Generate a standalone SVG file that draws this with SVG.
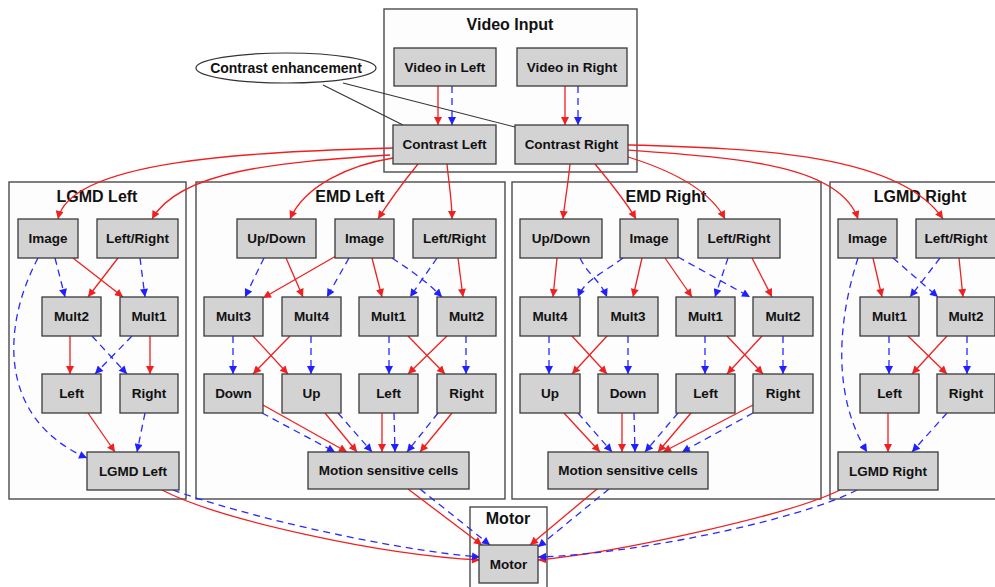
<svg xmlns="http://www.w3.org/2000/svg" width="995" height="587" viewBox="0 0 995 587">
<style>
.cl{fill:#fdfdfd;stroke:#4a4a4a;stroke-width:1.4}
.nd{fill:#d3d3d3;stroke:#3a3a3a;stroke-width:1.3}
.t{font-family:"Liberation Sans",Arial,sans-serif;font-weight:bold;font-size:13.5px;fill:#111;text-anchor:middle}
.tt{font-family:"Liberation Sans",Arial,sans-serif;font-weight:bold;font-size:16px;fill:#111;text-anchor:middle}
.r{stroke:#f02020;stroke-width:1.3;fill:none;marker-end:url(#ar)}
.b{stroke:#2a2aff;stroke-width:1.3;fill:none;stroke-dasharray:7 5;marker-end:url(#ab)}
.k{stroke:#333;stroke-width:1.1;fill:none}
</style>
<defs>
<marker id="ar" viewBox="0 0 10 10" refX="10" refY="5" markerWidth="10" markerHeight="8" markerUnits="userSpaceOnUse" orient="auto"><path d="M0,0 L10,5 L0,10 z" fill="#f02020"/></marker>
<marker id="ab" viewBox="0 0 10 10" refX="10" refY="5" markerWidth="10" markerHeight="8" markerUnits="userSpaceOnUse" orient="auto"><path d="M0,0 L10,5 L0,10 z" fill="#2020ff"/></marker>
</defs>
<rect x="0" y="0" width="995" height="587" fill="#ffffff"/>
<g id="clusters">
<g id="cluster_video"><rect class="cl" x="384" y="9" width="253" height="163"/><text class="tt" x="510" y="30">Video Input</text></g>
<g id="cluster_lgmd_left"><rect class="cl" x="9" y="182" width="177" height="317"/><text class="tt" x="97" y="202">LGMD Left</text></g>
<g id="cluster_emd_left"><rect class="cl" x="196" y="182" width="309" height="317"/><text class="tt" x="350" y="202">EMD Left</text></g>
<g id="cluster_emd_right"><rect class="cl" x="512" y="182" width="309" height="317"/><text class="tt" x="666" y="202">EMD Right</text></g>
<g id="cluster_lgmd_right"><rect class="cl" x="830" y="182" width="180" height="317"/><text class="tt" x="920" y="202">LGMD Right</text></g>
<g id="cluster_motor"><rect class="cl" x="470" y="507" width="77" height="95"/><text class="tt" x="508" y="524">Motor</text></g>
</g>
<g id="connectors">
<path class="k" d="M323,85 L403,125"/>
<path class="k" d="M343,83 L515,127"/>
<path class="r" d="M438,86 L438,125"/>
<path class="b" d="M452,86 L452,125"/>
<path class="r" d="M565,86 L565,125"/>
<path class="b" d="M578,86 L578,125"/>
<path class="r" d="M393,148 C250,152 70,160 58,219"/>
<path class="r" d="M390,155 C280,162 180,170 152,219"/>
<path class="r" d="M393,158 C350,165 305,185 290,219"/>
<path class="r" d="M418,164 C405,180 390,200 378,219"/>
<path class="r" d="M447,164 C449,185 452,200 452,219"/>
<path class="r" d="M570,164 C568,185 565,200 563,219"/>
<path class="r" d="M595,164 C610,182 625,200 636,219"/>
<path class="r" d="M628,157 C670,170 710,190 725,219"/>
<path class="r" d="M628,150 C740,158 840,165 858,219"/>
<path class="r" d="M628,145 C760,148 900,155 943,219"/>
<path class="b" d="M55,258 L65,297"/>
<path class="r" d="M73,258 L123,297"/>
<path class="r" d="M118,258 L88,297"/>
<path class="b" d="M140,258 L145,297"/>
<path class="b" d="M38,258 C0,330 0,420 87,458"/>
<path class="r" d="M70,336 L70,374"/>
<path class="b" d="M92,336 L127,374"/>
<path class="b" d="M132,336 L95,374"/>
<path class="r" d="M150,336 L150,374"/>
<path class="r" d="M88,413 L115,452"/>
<path class="b" d="M145,413 L137,452"/>
<path class="b" d="M264,258 L245,297"/>
<path class="r" d="M286,258 L303,297"/>
<path class="r" d="M336,256 L263,298"/>
<path class="b" d="M349,258 L327,297"/>
<path class="r" d="M372,258 L382,297"/>
<path class="b" d="M392,258 C410,270 425,280 442,297"/>
<path class="b" d="M437,258 L410,297"/>
<path class="r" d="M458,258 L463,297"/>
<path class="b" d="M233,336 L233,374"/>
<path class="r" d="M253,336 L288,374"/>
<path class="r" d="M290,336 L253,374"/>
<path class="b" d="M311,336 L311,374"/>
<path class="b" d="M389,336 L389,374"/>
<path class="r" d="M408,336 L445,374"/>
<path class="r" d="M447,336 L408,374"/>
<path class="b" d="M466,336 L466,374"/>
<path class="b" d="M262,413 L335,452"/>
<path class="r" d="M263,405 L347,452"/>
<path class="r" d="M325,413 L357,452"/>
<path class="b" d="M338,413 L372,452"/>
<path class="r" d="M382,413 L382,452"/>
<path class="b" d="M394,413 L395,452"/>
<path class="b" d="M438,413 L407,452"/>
<path class="r" d="M452,413 L420,452"/>
<path class="r" d="M557,258 L553,297"/>
<path class="b" d="M580,258 C588,275 600,280 607,297"/>
<path class="b" d="M623,258 C600,275 585,280 578,297"/>
<path class="r" d="M642,258 L633,297"/>
<path class="r" d="M665,258 L692,297"/>
<path class="b" d="M678,257 L750,297"/>
<path class="b" d="M728,258 L715,297"/>
<path class="r" d="M752,258 L772,297"/>
<path class="b" d="M549,336 L549,374"/>
<path class="r" d="M572,336 L607,374"/>
<path class="r" d="M607,336 L572,374"/>
<path class="b" d="M628,336 L628,374"/>
<path class="b" d="M705,336 L705,374"/>
<path class="r" d="M727,336 L763,374"/>
<path class="r" d="M762,336 L727,374"/>
<path class="b" d="M783,336 L783,374"/>
<path class="r" d="M564,413 L600,452"/>
<path class="b" d="M578,413 L612,452"/>
<path class="r" d="M622,413 L622,452"/>
<path class="b" d="M634,413 L635,452"/>
<path class="b" d="M678,413 L645,452"/>
<path class="r" d="M691,413 L658,452"/>
<path class="r" d="M753,405 L663,452"/>
<path class="b" d="M753,413 L682,452"/>
<path class="r" d="M873,258 L882,297"/>
<path class="b" d="M893,258 L938,297"/>
<path class="b" d="M940,258 L910,297"/>
<path class="r" d="M959,258 L963,297"/>
<path class="b" d="M858,258 C835,330 835,400 867,452"/>
<path class="b" d="M889,336 L889,374"/>
<path class="r" d="M908,336 L947,374"/>
<path class="r" d="M947,336 L912,374"/>
<path class="b" d="M967,336 L967,374"/>
<path class="r" d="M888,413 L888,452"/>
<path class="b" d="M947,413 L912,452"/>
<path class="r" d="M162,490 C220,520 380,555 480,560"/>
<path class="b" d="M173,490 C240,515 390,550 480,557"/>
<path class="r" d="M408,489 L482,545"/>
<path class="b" d="M420,489 L490,545"/>
<path class="r" d="M597,489 L530,545"/>
<path class="b" d="M609,489 L538,547"/>
<path class="r" d="M840,490 C790,515 620,552 538,560"/>
<path class="b" d="M857,490 C800,520 630,555 538,557"/>
</g>
<g id="n_contrast_enh"><ellipse cx="286" cy="68" rx="90" ry="15" fill="#ffffff" stroke="#333" stroke-width="1.2"/><text class="t" x="286" y="73" style="font-size:14px">Contrast enhancement</text></g>
<g id="n_video_left"><rect class="nd" x="394" y="48" width="102" height="38"/><text class="t" x="445" y="72">Video in Left</text></g>
<g id="n_video_right"><rect class="nd" x="517" y="48" width="110" height="38"/><text class="t" x="572" y="72">Video in Right</text></g>
<g id="n_contrast_left"><rect class="nd" x="393" y="125" width="103" height="39"/><text class="t" x="444.5" y="149">Contrast Left</text></g>
<g id="n_contrast_right"><rect class="nd" x="515" y="125" width="113" height="39"/><text class="t" x="571.5" y="149">Contrast Right</text></g>
<g id="n_lgmdL_image"><rect class="nd" x="18" y="219" width="60" height="39"/><text class="t" x="48" y="243">Image</text></g>
<g id="n_lgmdL_lr"><rect class="nd" x="97" y="219" width="81" height="39"/><text class="t" x="137.5" y="243">Left/Right</text></g>
<g id="n_lgmdL_mult2"><rect class="nd" x="42" y="297" width="59" height="39"/><text class="t" x="71.5" y="321">Mult2</text></g>
<g id="n_lgmdL_mult1"><rect class="nd" x="120" y="297" width="58" height="39"/><text class="t" x="149" y="321">Mult1</text></g>
<g id="n_lgmdL_left"><rect class="nd" x="42" y="374" width="59" height="39"/><text class="t" x="71.5" y="398">Left</text></g>
<g id="n_lgmdL_right"><rect class="nd" x="120" y="374" width="58" height="39"/><text class="t" x="149" y="398">Right</text></g>
<g id="n_lgmd_left"><rect class="nd" x="87" y="452" width="92" height="38"/><text class="t" x="133" y="476">LGMD Left</text></g>
<g id="n_emdL_ud"><rect class="nd" x="237" y="219" width="79" height="39"/><text class="t" x="276.5" y="243">Up/Down</text></g>
<g id="n_emdL_image"><rect class="nd" x="335" y="219" width="59" height="39"/><text class="t" x="364.5" y="243">Image</text></g>
<g id="n_emdL_lr"><rect class="nd" x="413" y="219" width="83" height="39"/><text class="t" x="454.5" y="243">Left/Right</text></g>
<g id="n_emdL_mult3"><rect class="nd" x="204" y="297" width="59" height="39"/><text class="t" x="233.5" y="321">Mult3</text></g>
<g id="n_emdL_mult4"><rect class="nd" x="282" y="297" width="59" height="39"/><text class="t" x="311.5" y="321">Mult4</text></g>
<g id="n_emdL_mult1"><rect class="nd" x="359" y="297" width="59" height="39"/><text class="t" x="388.5" y="321">Mult1</text></g>
<g id="n_emdL_mult2"><rect class="nd" x="437" y="297" width="59" height="39"/><text class="t" x="466.5" y="321">Mult2</text></g>
<g id="n_emdL_down"><rect class="nd" x="204" y="374" width="59" height="39"/><text class="t" x="233.5" y="398">Down</text></g>
<g id="n_emdL_up"><rect class="nd" x="282" y="374" width="59" height="39"/><text class="t" x="311.5" y="398">Up</text></g>
<g id="n_emdL_left"><rect class="nd" x="359" y="374" width="59" height="39"/><text class="t" x="388.5" y="398">Left</text></g>
<g id="n_emdL_right"><rect class="nd" x="437" y="374" width="59" height="39"/><text class="t" x="466.5" y="398">Right</text></g>
<g id="n_emdL_msc"><rect class="nd" x="308" y="452" width="161" height="37"/><text class="t" x="388.5" y="475">Motion sensitive cells</text></g>
<g id="n_emdR_ud"><rect class="nd" x="520" y="219" width="82" height="39"/><text class="t" x="561" y="243">Up/Down</text></g>
<g id="n_emdR_image"><rect class="nd" x="620" y="219" width="58" height="39"/><text class="t" x="649" y="243">Image</text></g>
<g id="n_emdR_lr"><rect class="nd" x="698" y="219" width="82" height="39"/><text class="t" x="739" y="243">Left/Right</text></g>
<g id="n_emdR_mult4"><rect class="nd" x="520" y="297" width="60" height="39"/><text class="t" x="550" y="321">Mult4</text></g>
<g id="n_emdR_mult3"><rect class="nd" x="598" y="297" width="60" height="39"/><text class="t" x="628" y="321">Mult3</text></g>
<g id="n_emdR_mult1"><rect class="nd" x="676" y="297" width="59" height="39"/><text class="t" x="705.5" y="321">Mult1</text></g>
<g id="n_emdR_mult2"><rect class="nd" x="753" y="297" width="60" height="39"/><text class="t" x="783" y="321">Mult2</text></g>
<g id="n_emdR_up"><rect class="nd" x="520" y="374" width="60" height="39"/><text class="t" x="550" y="398">Up</text></g>
<g id="n_emdR_down"><rect class="nd" x="598" y="374" width="60" height="39"/><text class="t" x="628" y="398">Down</text></g>
<g id="n_emdR_left"><rect class="nd" x="676" y="374" width="59" height="39"/><text class="t" x="705.5" y="398">Left</text></g>
<g id="n_emdR_right"><rect class="nd" x="753" y="374" width="60" height="39"/><text class="t" x="783" y="398">Right</text></g>
<g id="n_emdR_msc"><rect class="nd" x="548" y="452" width="160" height="37"/><text class="t" x="628" y="475">Motion sensitive cells</text></g>
<g id="n_lgmdR_image"><rect class="nd" x="838" y="219" width="59" height="39"/><text class="t" x="867.5" y="243">Image</text></g>
<g id="n_lgmdR_lr"><rect class="nd" x="916" y="219" width="80" height="39"/><text class="t" x="956" y="243">Left/Right</text></g>
<g id="n_lgmdR_mult1"><rect class="nd" x="860" y="297" width="59" height="39"/><text class="t" x="889.5" y="321">Mult1</text></g>
<g id="n_lgmdR_mult2"><rect class="nd" x="937" y="297" width="58" height="39"/><text class="t" x="966" y="321">Mult2</text></g>
<g id="n_lgmdR_left"><rect class="nd" x="860" y="374" width="59" height="39"/><text class="t" x="889.5" y="398">Left</text></g>
<g id="n_lgmdR_right"><rect class="nd" x="937" y="374" width="58" height="39"/><text class="t" x="966" y="398">Right</text></g>
<g id="n_lgmd_right"><rect class="nd" x="838" y="452" width="100" height="38"/><text class="t" x="888" y="476">LGMD Right</text></g>
<g id="n_motor"><rect class="nd" x="479" y="545" width="59" height="38"/><text class="t" x="508.5" y="569">Motor</text></g>
</svg>
